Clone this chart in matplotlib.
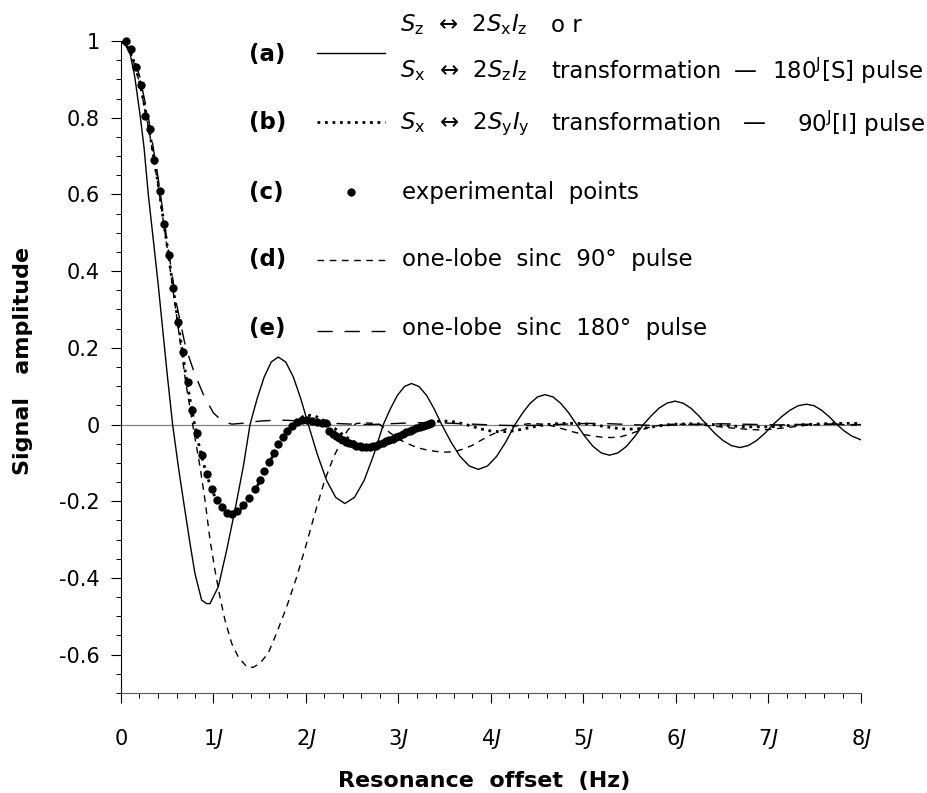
import matplotlib
matplotlib.use("Agg")
import matplotlib.pyplot as plt
from matplotlib.lines import Line2D
import numpy as np

plt.rcParams["font.family"] = ["DejaVu Sans"]
plt.rcParams["mathtext.fontset"] = "dejavusans"
plt.rcParams["axes.unicode_minus"] = False

# ---------------- data (offset in units of J, signal amplitude) ----------------
# (a) Sz <-> 2SxIz  /  Sx <-> 2SzIz  (180^J[S] pulse) : solid
a_x = [0, 0.05, 0.10, 0.15, 0.21, 0.25, 0.295, 0.35, 0.40, 0.45, 0.50, 0.558,
       0.62, 0.674, 0.746, 0.80, 0.872, 0.926, 0.962, 1.052, 1.142, 1.232, 1.322, 1.395,
       1.471, 1.548, 1.624, 1.70, 1.781, 1.863, 1.944, 2.025,
       2.124, 2.223, 2.321, 2.42, 2.524, 2.628, 2.732, 2.836,
       2.912, 2.988, 3.064, 3.14, 3.222, 3.304, 3.385, 3.467,
       3.566, 3.665, 3.764, 3.863, 3.962, 4.061, 4.161, 4.26,
       4.341, 4.422, 4.503, 4.584, 4.67, 4.755, 4.841, 4.926,
       5.015, 5.103, 5.192, 5.28, 5.372, 5.464, 5.555, 5.647,
       5.733, 5.818, 5.904, 5.989, 6.074, 6.159, 6.245, 6.33,
       6.42, 6.51, 6.60, 6.69, 6.78, 6.87, 6.96, 7.05,
       7.14, 7.23, 7.32, 7.41, 7.493, 7.575, 7.658, 7.74,
       7.82, 7.90, 8.0]
a_y = [1.0, 0.99, 0.965, 0.905, 0.80, 0.72, 0.60, 0.48, 0.37, 0.25, 0.13, 0.0,
       -0.11, -0.197, -0.31, -0.389, -0.458, -0.467, -0.467, -0.423, -0.328, -0.223, -0.11, 0.0,
       0.067, 0.124, 0.163, 0.176, 0.163, 0.124, 0.067, 0.0,
       -0.079, -0.146, -0.19, -0.206, -0.19, -0.146, -0.079, 0.0,
       0.041, 0.076, 0.099, 0.107, 0.099, 0.076, 0.041, 0.0,
       -0.045, -0.083, -0.108, -0.117, -0.108, -0.083, -0.045, 0.0,
       0.030, 0.055, 0.072, 0.078, 0.072, 0.055, 0.030, 0.0,
       -0.031, -0.057, -0.074, -0.080, -0.074, -0.057, -0.031, 0.0,
       0.023, 0.043, 0.056, 0.061, 0.056, 0.043, 0.023, 0.0,
       -0.023, -0.042, -0.055, -0.060, -0.055, -0.042, -0.023, 0.0,
       0.020, 0.037, 0.049, 0.053, 0.049, 0.037, 0.020, 0.0,
       -0.017, -0.030, -0.040]

# (b) Sx <-> 2SyIy (90^J[I] pulse) : dotted
b_x = [0, 0.1, 0.2, 0.3, 0.4, 0.5, 0.6, 0.7,
       0.75, 0.8, 0.85, 0.9, 0.95, 1.0, 1.05, 1.1, 1.15, 1.2, 1.25, 1.3,
       1.4, 1.5, 1.6, 1.7, 1.8, 1.9, 2.0, 2.1, 2.2, 2.3, 2.4, 2.5, 2.6, 2.7, 2.8, 2.9, 3.0,
       3.1, 3.2, 3.3, 3.4, 3.5, 3.6, 3.7, 3.8, 3.9, 4.0,
       4.1, 4.2, 4.3, 4.4, 4.5, 4.6, 4.7, 4.8, 4.9, 5.0,
       5.1, 5.2, 5.3, 5.4, 5.5, 5.6, 5.7, 5.8, 5.9, 6.0,
       6.2, 6.4, 6.6, 6.8, 7.0, 7.2, 7.4, 7.6, 7.8, 8.0]
b_y = [1.0, 0.977, 0.897, 0.776, 0.63, 0.465, 0.295, 0.13,
       0.06, -0.005, -0.062, -0.108, -0.148, -0.18, -0.205, -0.221, -0.23, -0.233, -0.229, -0.219,
       -0.19, -0.149, -0.101, -0.053, -0.014, 0.012, 0.025, 0.022, 0.01, -0.008, -0.027, -0.043,
       -0.053, -0.056, -0.051, -0.041, -0.029,
       -0.016, -0.005, 0.003, 0.008, 0.009, 0.007, 0.002, -0.005, -0.012, -0.017,
       -0.019, -0.018, -0.014, -0.009, -0.004, 0.0, 0.002, 0.003, 0.003, 0.002,
       0.0, -0.004, -0.008, -0.011, -0.012, -0.011, -0.008, -0.004, -0.001, 0.001,
       0.002, 0.0, -0.004, -0.006, -0.006, -0.003, 0.0, 0.002, 0.003, 0.003]

# (c) experimental points
c_x = [0.054, 0.108, 0.159, 0.213, 0.259, 0.314, 0.360, 0.418, 0.468, 0.519,
       0.565, 0.620, 0.667, 0.719, 0.770, 0.825, 0.872, 0.933, 0.980, 1.034,
       1.088, 1.142, 1.197, 1.257, 1.322, 1.387, 1.444, 1.499, 1.550, 1.600,
       1.652, 1.700, 1.748, 1.790, 1.845, 1.899, 1.953, 2.007, 2.061, 2.115,
       2.169, 2.220,
       2.25, 2.29, 2.32, 2.36, 2.40, 2.43, 2.47, 2.51, 2.54, 2.58,
       2.61, 2.65, 2.69, 2.72, 2.76, 2.79, 2.83, 2.87, 2.90, 2.94,
       2.97, 3.01, 3.05, 3.08, 3.12, 3.15, 3.19, 3.23, 3.26, 3.30,
       3.33, 3.35]
c_y = [1.0, 0.978, 0.933, 0.886, 0.804, 0.770, 0.689, 0.610, 0.523, 0.442,
       0.355, 0.268, 0.189, 0.110, 0.038, -0.023, -0.080, -0.128, -0.167, -0.196,
       -0.215, -0.230, -0.234, -0.225, -0.210, -0.192, -0.167, -0.145, -0.121, -0.097,
       -0.075, -0.052, -0.032, -0.017, -0.004, 0.006, 0.012, 0.012, 0.009, 0.007,
       0.005, 0.004,
       -0.016, -0.024, -0.030, -0.036, -0.041, -0.045, -0.049, -0.052, -0.055, -0.057,
       -0.058, -0.058, -0.058, -0.057, -0.055, -0.052, -0.048, -0.044, -0.041, -0.037,
       -0.033, -0.029, -0.024, -0.020, -0.016, -0.013, -0.010, -0.006, -0.003, 0.000,
       0.002, 0.004]

# (d) one-lobe sinc 90 deg pulse : short dashes
d_x = [0, 0.1, 0.2, 0.3, 0.4, 0.5, 0.6, 0.7,
       0.775, 0.854, 0.908, 0.962, 1.016, 1.07, 1.124, 1.197, 1.268, 1.36, 1.43, 1.50,
       1.59, 1.68, 1.79, 1.90, 2.0, 2.11, 2.2, 2.3, 2.39, 2.45, 2.5, 2.55, 2.65, 2.75, 2.8,
       2.9, 3.0, 3.1, 3.2, 3.3, 3.4, 3.5, 3.6, 3.7, 3.8,
       3.9, 4.0, 4.1, 4.2, 4.3, 4.4, 4.5, 4.6, 4.7, 4.8,
       4.9, 5.0, 5.1, 5.2, 5.3, 5.4, 5.5, 5.6, 5.7, 5.8,
       5.9, 6.0,
       6.2, 6.4, 6.6, 6.8, 6.9, 7.0, 7.2, 7.4, 7.6, 7.8, 8.0]
d_y = [1.0, 0.975, 0.892, 0.772, 0.625, 0.46, 0.285, 0.11,
       0.0, -0.11, -0.197, -0.30, -0.38, -0.45, -0.51, -0.571, -0.606, -0.632, -0.633, -0.623,
       -0.597, -0.545, -0.476, -0.397, -0.315, -0.22, -0.147, -0.084, -0.04, -0.015, -0.003,
       0.003, 0.004, 0.003, 0.0,
       -0.02, -0.038, -0.05, -0.06, -0.066, -0.07, -0.072, -0.071, -0.064, -0.054,
       -0.04, -0.027, -0.017, -0.008, -0.002, 0.002, 0.002, 0.0, -0.006, -0.013,
       -0.02, -0.026, -0.03, -0.033, -0.034, -0.032, -0.025, -0.016, -0.008, -0.003,
       0.0, 0.001,
       0.0, -0.004, -0.009, -0.013, -0.014, -0.013, -0.008, -0.002, 0.001, 0.0, -0.002]

# (e) one-lobe sinc 180 deg pulse : long dashes
e_x = [0, 0.1, 0.2, 0.3, 0.4, 0.5, 0.6, 0.7, 0.8, 0.9, 1.0, 1.1, 1.2,
       1.35, 1.5, 1.65, 1.8, 1.95,
       2.1, 2.3, 2.5, 2.7, 2.9, 3.1, 3.3, 3.5, 3.7, 3.9,
       4.1, 4.3, 4.5, 4.7, 4.9, 5.1, 5.3, 5.5, 5.7, 5.9,
       6.1, 6.3, 6.5, 6.7, 6.9, 7.1, 7.3, 7.5, 7.7, 7.9, 8.0]
e_y = [1.0, 0.979, 0.91, 0.795, 0.645, 0.475, 0.315, 0.2, 0.13, 0.073, 0.03, 0.008, 0.001,
       0.004, 0.009, 0.011, 0.011, 0.009,
       0.006, 0.003, 0.001, 0.0, 0.002, 0.004, 0.005, 0.004, 0.002, 0.0,
       -0.002, -0.003, -0.002, 0.0, 0.002, 0.003, 0.002, 0.0, -0.002, -0.002,
       0.0, 0.001, 0.002, 0.001, 0.0, -0.001, 0.0, 0.001, 0.001, 0.0, 0.0]

x_ticks = [0, 1, 2, 3, 4, 5, 6, 7, 8]
x_ticklabels = ["0", "1$J$", "2$J$", "3$J$", "4$J$", "5$J$", "6$J$", "7$J$", "8$J$"]
y_ticks = [-0.6, -0.4, -0.2, 0, 0.2, 0.4, 0.6, 0.8, 1.0]
y_ticklabels = ["-0.6", "-0.4", "-0.2", "0", "0.2", "0.4", "0.6", "0.8", "1"]

# ---------------- figure ----------------
W, H = 928, 793
fig = plt.figure(figsize=(W / 100, H / 100), dpi=100)
ax = fig.add_axes([121 / W, 100 / H, 740 / W, 652 / H])
ax.set_xlim(0, 8)
ax.set_ylim(-0.7, 1.0)

SHORT = (0, (4.8, 4.0))
LONG = (0, (11, 8.5))
DOT = (0, (1.0, 1.7))

ax.plot([0, 8], [0, 0], color="0.5", lw=0.9, zorder=1)
ax.plot(a_x, a_y, color="black", lw=1.0, zorder=3)
ax.plot(b_x, b_y, color="black", lw=2.0, linestyle=DOT, dash_capstyle="butt", zorder=3)
ax.plot(d_x, d_y, color="black", lw=1.0, linestyle=SHORT, zorder=3)
ax.plot(e_x, e_y, color="black", lw=1.0, linestyle=LONG, zorder=3)
ax.plot(c_x, c_y, "o", color="black", ms=6.0, mew=0, clip_on=False, zorder=4)

for s in ["top", "right"]:
    ax.spines[s].set_visible(False)
ax.spines["left"].set_linewidth(0.8)
ax.spines["bottom"].set_linewidth(0.8)
ax.spines["bottom"].set_color("0.35")

ax.set_xticks(x_ticks)
ax.set_xticklabels(x_ticklabels)
ax.set_xticks(np.arange(0, 8.001, 0.2), minor=True)
ax.set_yticks(y_ticks)
ax.set_yticklabels(y_ticklabels)
ax.set_yticks(np.arange(-0.7, 1.0001, 0.05), minor=True)
ax.tick_params(which="major", direction="out", length=7.5, width=0.8, labelsize=15)
ax.tick_params(which="minor", direction="out", length=3.8, width=0.7)
ax.tick_params(axis="x", which="major", pad=30)
ax.tick_params(axis="y", which="major", pad=8)
for lbl in ax.get_xticklabels():
    lbl.set_verticalalignment("baseline")

fig.text(484 / W, 1 - 781 / H, "Resonance  offset  (Hz)", ha="center", va="center",
         fontsize=16, fontweight="bold")
fig.text(23 / W, 1 - 361 / H, "Signal   amplitude", ha="center", va="center",
         rotation=90, fontsize=16, fontweight="bold")

# ---------------- legend (hand placed, figure pixel coords) ----------------
def fx(px):
    return px / W

def fy(py):
    return 1 - py / H

LFS = 16.5
lab_kw = dict(ha="left", va="center", fontsize=16.5, fontweight="bold")
txt_kw = dict(ha="left", va="center", fontsize=LFS)

fig.text(fx(249), fy(54), "(a)", **lab_kw)
fig.text(fx(249), fy(122), "(b)", **lab_kw)
fig.text(fx(249), fy(192), "(c)", **lab_kw)
fig.text(fx(249), fy(260), "(d)", **lab_kw)
fig.text(fx(249), fy(329), "(e)", **lab_kw)

fig.add_artist(Line2D([fx(317), fx(385)], [fy(53), fy(53)], color="black", lw=1.0))
fig.add_artist(Line2D([fx(317), fx(385)], [fy(122), fy(122)], color="black", lw=2.0,
                      linestyle=DOT, dash_capstyle="butt"))
fig.add_artist(Line2D([fx(351)], [fy(192)], marker="o", color="black", ms=6.0, mew=0))
fig.add_artist(Line2D([fx(317), fx(385)], [fy(260), fy(260)], color="black", lw=1.0,
                      linestyle=SHORT))
fig.add_artist(Line2D([fx(317), fx(385)], [fy(331), fy(331)], color="black", lw=1.0,
                      linestyle=LONG))

# line 1
fig.text(fx(400), fy(25), r"$S_\mathrm{z}$  ↔  2$S_\mathrm{x}I_\mathrm{z}$", **txt_kw)
fig.text(fx(551), fy(25), "o r", **txt_kw)
# line 2
fig.text(fx(400), fy(71), r"$S_\mathrm{x}$  ↔  2$S_\mathrm{z}I_\mathrm{z}$", **txt_kw)
fig.text(fx(551), fy(71), "transformation", **txt_kw)
fig.text(fx(734), fy(71), "—", **txt_kw)
fig.text(fx(772), fy(71), r"180$^\mathrm{J}$[S] pulse", **txt_kw)
# line 3
fig.text(fx(400), fy(124), r"$S_\mathrm{x}$  ↔  2$S_\mathrm{y}I_\mathrm{y}$", **txt_kw)
fig.text(fx(551), fy(124), "transformation", **txt_kw)
fig.text(fx(743), fy(124), "—", **txt_kw)
fig.text(fx(797), fy(124), r"90$^\mathrm{J}$[I] pulse", **txt_kw)
# lines c-e
fig.text(fx(402), fy(192), "experimental  points", **txt_kw)
fig.text(fx(402), fy(260), "one-lobe  sinc  90°  pulse", **txt_kw)
fig.text(fx(402), fy(329), "one-lobe  sinc  180°  pulse", **txt_kw)

fig.savefig("out.png", dpi=100)
